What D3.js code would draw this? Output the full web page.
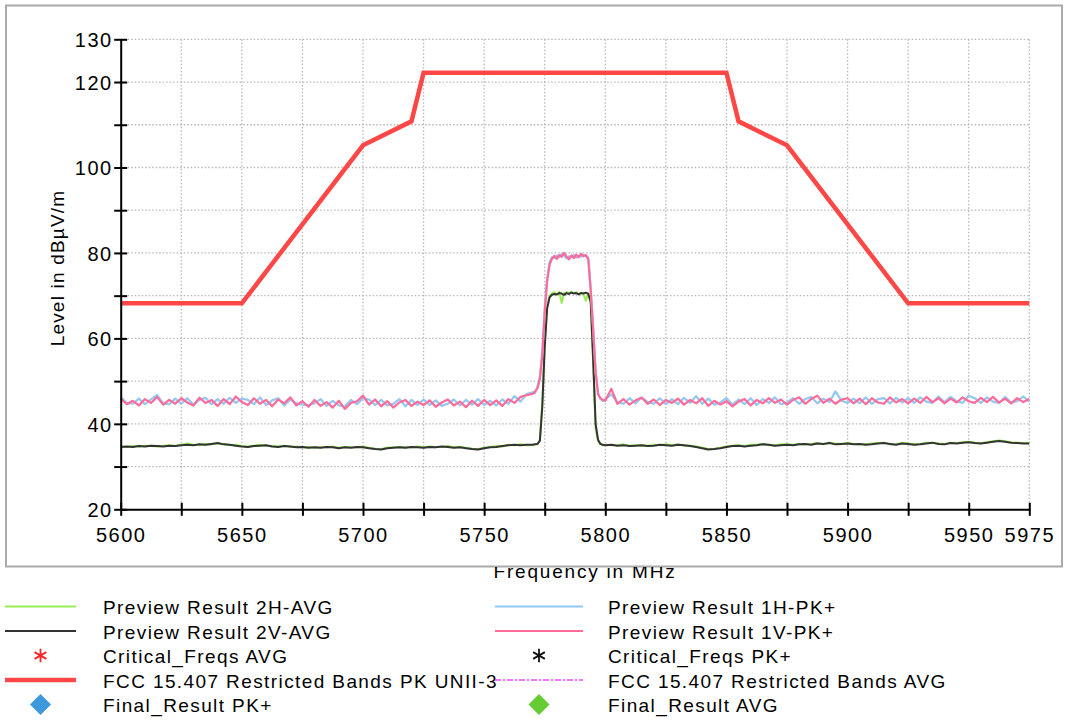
<!DOCTYPE html>
<html>
<head>
<meta charset="utf-8">
<script src="https://cdn.jsdelivr.net/npm/d3@7"></script>
<style>
  html, body { margin: 0; padding: 0; background: #fff; }
  svg { display: block; font-family: "Liberation Sans", Arial, sans-serif; }
</style>
</head>
<body>
<div id="chart"></div>
<script>
const WIDTH = 1065;
const HEIGHT = 720;

// frequency grid of the traces (MHz): coarse, fine around the carrier, coarse
const freqLow = d3.range(5600, 5768, 2.5);
const freqMid = d3.range(5770, 5800, 1);
const freqHigh = d3.range(5800, 5975.1, 2.5);
const freqs = freqLow.concat(freqMid, freqHigh);

// Preview Result 1V-PK+ (dBuV/m)
const pk1V = [
  45.9, 44.6, 45.4, 44.3, 45.8, 44.9, 46.3, 44.5, 45.6, 44.7, 46.0,
  45.0, 44.3, 46.1, 44.9, 45.6, 44.2, 45.8, 44.6, 46.4, 45.1,
  44.4, 46.0, 44.7, 45.6, 44.1, 45.7, 44.8, 46.2, 44.3, 45.3,
  44.0, 45.6, 44.2, 45.1, 43.8, 45.4, 43.5, 44.9, 45.3, 46.6,
  44.5, 45.7, 44.1, 45.3, 43.8, 45.0, 45.6, 44.2, 45.2, 44.4,
  45.5, 44.0, 45.0, 45.7, 44.3, 45.2, 43.9, 45.4, 44.2, 45.6,
  44.4, 45.5, 44.2, 45.8, 44.9, 46.3, 46.7,
  47.0, 47.6, 48.3, 50.5, 56.0, 66.0, 73.5, 77.2, 78.7, 79.3,
  78.6, 79.5, 79.1, 80.0, 79.2, 78.5, 79.4, 78.8, 79.6, 79.0,
  79.8, 79.2, 79.5, 78.4, 71.0, 62.0, 52.0, 47.0, 46.0, 45.6,
  45.4, 48.2, 44.7, 45.8, 44.5, 45.5, 46.1, 44.7, 45.7, 44.4, 45.6,
  44.9, 45.9, 44.5, 45.6, 44.8, 46.0, 44.2, 45.4, 44.5, 45.3,
  44.1, 45.2, 45.8, 44.3, 45.6, 44.8, 46.0, 44.9, 45.7, 44.5,
  45.6, 46.2, 44.7, 45.8, 46.6, 44.9, 45.9, 44.7, 45.7, 46.0,
  44.8, 45.9, 44.6, 46.0, 45.0, 44.7, 46.2, 45.0, 45.8, 44.8,
  45.9, 44.9, 46.3, 45.1, 46.0, 44.8, 45.9, 45.0, 46.2, 45.3,
  44.9, 46.1, 45.1, 46.3, 45.0, 45.9, 44.8, 46.0, 45.1, 45.8
];

// Preview Result 1H-PK+
const pk1H = [
  46.2, 44.9, 44.7, 45.9, 44.6, 45.7, 46.8, 44.8, 44.6, 45.9, 44.7,
  46.0, 44.5, 45.6, 46.1, 44.6, 45.8, 44.7, 46.1, 44.9, 45.9,
  45.6, 44.6, 46.2, 44.4, 45.5, 46.0, 44.3, 45.7, 44.8, 44.5,
  44.4, 44.8, 45.8, 44.2, 45.4, 44.3, 44.1, 45.6, 44.6, 46.0,
  45.7, 44.4, 45.6, 44.3, 44.7, 45.8, 44.1, 45.6, 44.4, 45.7,
  44.4, 45.5, 44.2, 44.7, 45.7, 44.3, 45.6, 44.5, 45.8, 44.4,
  45.4, 44.3, 45.7, 44.7, 46.5, 45.2, 47.0,
  47.4, 47.2, 48.8, 51.0, 57.0, 67.0, 74.0, 77.8, 79.0, 78.8,
  79.4, 79.0, 79.8, 79.4, 78.7, 79.2, 79.0, 79.5, 78.9, 79.4,
  79.1, 79.6, 79.3, 78.9, 71.5, 62.5, 52.5, 47.2, 45.8, 45.4,
  45.8, 46.9, 45.0, 44.7, 46.0, 44.8, 46.2, 45.1, 44.7, 46.0, 44.6,
  45.8, 44.6, 46.1, 44.9, 46.5, 44.7, 45.9, 44.5, 45.0, 46.0,
  44.5, 45.7, 44.6, 46.0, 44.4, 45.8, 44.9, 46.2, 44.6, 45.0,
  46.0, 44.7, 45.8, 46.3, 44.8, 45.9, 45.1, 47.6, 45.4, 44.9,
  45.9, 44.8, 46.2, 44.7, 45.8, 46.0, 44.8, 46.1, 45.0, 46.0,
  44.9, 46.2, 45.2, 44.9, 46.4, 45.1, 46.3, 45.3, 44.9, 46.6,
  46.0, 44.9, 46.2, 45.2, 44.9, 46.3, 45.0, 45.3, 46.4, 45.2
];

// Preview Result 2V-AVG
const avg2V = [
  34.6, 34.7, 34.6, 34.8, 34.7, 34.9, 34.8, 34.7, 34.9, 34.8, 35.0,
  35.1, 35.0, 35.2, 35.1, 35.3, 35.5, 35.2, 35.1, 34.9, 34.7,
  34.6, 34.8, 34.9, 35.0, 34.7, 34.6, 34.8, 34.7, 34.5, 34.6,
  34.4, 34.5, 34.4, 34.6, 34.5, 34.3, 34.5, 34.4, 34.6, 34.5,
  34.3, 34.1, 34.0, 34.3, 34.4, 34.5, 34.4, 34.6, 34.5, 34.4,
  34.6, 34.5, 34.7, 34.6, 34.4, 34.5, 34.3, 34.1, 34.0, 34.3,
  34.5, 34.6, 34.8, 35.0, 35.1, 35.0, 35.1,
  35.1, 35.2, 35.3, 36.0, 44.0, 58.0, 67.0, 69.6, 70.2, 70.4,
  70.3, 70.6, 70.5, 70.2, 70.6, 70.4, 70.7, 70.5, 70.6, 70.3,
  70.6, 70.5, 70.7, 70.4, 68.5, 55.0, 40.0, 36.3, 35.3, 35.1,
  35.0, 35.1, 34.9, 35.0, 34.8, 34.9, 35.0, 34.8, 34.9, 35.1, 35.0,
  34.9, 35.1, 35.0, 34.8, 34.6, 34.3, 34.0, 34.1, 34.3, 34.6,
  34.8, 34.9, 34.7, 34.9, 35.0, 35.2, 35.1, 34.9, 35.0, 35.1,
  35.0, 35.2, 35.3, 35.1, 35.4, 35.3, 35.5, 35.2, 35.3, 35.4,
  35.2, 35.3, 35.1, 35.2, 35.4, 35.5, 35.3, 35.1, 35.4, 35.3,
  35.1, 35.2, 35.4, 35.6, 35.3, 35.2, 35.5, 35.4, 35.6, 35.7,
  35.5, 35.4, 35.6, 35.8, 36.0, 35.8, 35.6, 35.5, 35.4, 35.4
];

// Preview Result 2H-AVG
const avg2H = [
  34.7, 34.6, 34.8, 34.7, 34.9, 34.8, 34.7, 34.9, 35.0, 34.8, 35.1,
  35.4, 35.1, 35.0, 35.3, 35.2, 35.4, 35.3, 35.0, 35.1, 34.8,
  34.7, 34.9, 35.1, 34.9, 34.8, 34.7, 34.9, 34.6, 34.7, 34.5,
  34.6, 34.4, 34.5, 34.5, 34.7, 34.4, 34.6, 34.5, 34.5, 34.7,
  34.4, 34.2, 34.1, 34.4, 34.5, 34.6, 34.5, 34.5, 34.7, 34.5,
  34.7, 34.6, 34.6, 34.8, 34.5, 34.6, 34.4, 34.2, 34.1, 34.4,
  34.6, 34.8, 34.7, 35.1, 35.0, 35.2, 35.0,
  35.0, 35.3, 35.2, 36.3, 45.0, 59.0, 67.5, 70.0, 70.6, 70.8,
  70.2, 70.9, 68.3, 70.6, 70.8, 70.5, 70.9, 70.6, 70.8, 70.4,
  70.7, 70.3, 68.8, 70.6, 68.0, 54.0, 39.0, 36.0, 35.2, 35.0,
  35.1, 35.0, 35.0, 35.2, 34.9, 35.0, 34.9, 34.9, 35.1, 35.0, 35.2,
  35.0, 35.2, 34.9, 34.9, 34.7, 34.4, 34.1, 34.2, 34.4, 34.7,
  34.9, 35.0, 34.8, 35.1, 35.1, 35.3, 35.0, 35.0, 35.2, 35.2,
  35.1, 35.3, 35.2, 35.3, 35.5, 35.2, 35.6, 35.4, 35.3, 35.5,
  35.3, 35.2, 35.2, 35.4, 35.5, 35.6, 35.2, 35.3, 35.5, 35.4,
  35.2, 35.3, 35.6, 35.5, 35.4, 35.3, 35.6, 35.5, 35.7, 35.8,
  35.6, 35.5, 35.7, 35.9, 36.1, 35.9, 35.7, 35.6, 35.5, 35.6
];

// FCC 15.407 restricted bands PK limit
const limitFreqs = [5600, 5650, 5700, 5720, 5725, 5850, 5855, 5875, 5925, 5975];
const limitLevels = [68.2, 68.2, 105.2, 110.8, 122.2, 122.2, 110.8, 105.2, 68.2, 68.2];

const xTicks = d3.range(5600, 5976, 25);
const xLabels = [5600, 5650, 5700, 5750, 5800, 5850, 5900, 5950, 5975];
const yTicks = d3.range(20, 131, 10);
const yLabels = [20, 40, 60, 80, 100, 120, 130];

const legendLeft = [
  {name: "Preview Result 2H-AVG", kind: "line", color: "#99ee55", w: 2},
  {name: "Preview Result 2V-AVG", kind: "line", color: "#333333", w: 2},
  {name: "Critical_Freqs AVG", kind: "star", color: "#ff2222"},
  {name: "FCC 15.407 Restricted Bands PK UNII-3", kind: "line", color: "#ff4747", w: 4.5},
  {name: "Final_Result PK+", kind: "diamond", color: "#3d98dc"}
];
const legendRight = [
  {name: "Preview Result 1H-PK+", kind: "line", color: "#92c8f2", w: 2},
  {name: "Preview Result 1V-PK+", kind: "line", color: "#ff6b9b", w: 2},
  {name: "Critical_Freqs PK+", kind: "star", color: "#111111"},
  {name: "FCC 15.407 Restricted Bands AVG", kind: "dashdot", color: "#ff44ff", w: 1.5},
  {name: "Final_Result AVG", kind: "diamond", color: "#66cc33"}
];

const x = d3.scaleLinear().domain([5600, 5975]).range([120.7, 1029.3]);
const y = d3.scaleLinear().domain([20, 130]).range([509.3, 39.3]);

const svg = d3.select("#chart")
  .append("svg")
  .attr("width", WIDTH)
  .attr("height", HEIGHT);

svg.append("rect").attr("width", WIDTH).attr("height", HEIGHT).attr("fill", "#fff");

// outer panel frame
svg.append("rect")
  .attr("x", 6).attr("y", 5.5)
  .attr("width", 1056).attr("height", 561)
  .attr("fill", "none")
  .attr("stroke", "#aaaaaa")
  .attr("stroke-width", 2);

// grid
const grid = svg.append("g");
grid.selectAll(".vg")
  .data(xTicks.slice(1))
  .enter().append("line")
  .attr("x1", d => x(d)).attr("x2", d => x(d))
  .attr("y1", y(130)).attr("y2", y(20))
  .attr("stroke", "#b8b8b8")
  .attr("stroke-width", 1.3)
  .attr("stroke-dasharray", "1.5,2");
grid.selectAll(".hg")
  .data(yTicks.slice(1))
  .enter().append("line")
  .attr("x1", x(5600)).attr("x2", x(5975))
  .attr("y1", d => y(d)).attr("y2", d => y(d))
  .attr("stroke", "#b8b8b8")
  .attr("stroke-width", 1.3)
  .attr("stroke-dasharray", "1.5,2");

// traces
const line = d3.line()
  .x((d, i) => x(freqs[i]))
  .y(d => y(d));

const traces = [
  {values: avg2H, color: "#99ee55", w: 2},
  {values: avg2V, color: "#333333", w: 2},
  {values: pk1H, color: "#92c8f2", w: 2.2},
  {values: pk1V, color: "#ff6b9b", w: 2.2}
];

svg.append("g")
  .selectAll("path")
  .data(traces)
  .enter().append("path")
  .attr("d", d => line(d.values))
  .attr("fill", "none")
  .attr("stroke", d => d.color)
  .attr("stroke-width", d => d.w)
  .attr("stroke-linejoin", "round");

const limitLine = d3.line()
  .x((d, i) => x(limitFreqs[i]))
  .y(d => y(d));

svg.append("path")
  .attr("d", limitLine(limitLevels))
  .attr("fill", "none")
  .attr("stroke", "#ff4747")
  .attr("stroke-width", 4.5);

// axes
const xAxis = svg.append("g")
  .attr("transform", `translate(0,${y(20)})`)
  .call(d3.axisBottom(x)
    .tickValues(xTicks)
    .tickSizeOuter(0)
    .tickFormat(d => xLabels.includes(d) ? d : ""));

const yAxis = svg.append("g")
  .attr("transform", `translate(${x(5600)},0)`)
  .call(d3.axisLeft(y)
    .tickValues(yTicks)
    .tickSizeOuter(0)
    .tickFormat(d => yLabels.includes(d) ? d : ""));

[xAxis, yAxis].forEach(a => {
  a.select(".domain").attr("stroke", "#000").attr("stroke-width", 2);
  a.selectAll(".tick line").attr("stroke", "#000").attr("stroke-width", 2);
  a.selectAll("text")
    .attr("fill", "#000")
    .style("font-size", "20px")
    .style("letter-spacing", "1.5px")
    .style("font-family", "'Liberation Sans', Arial, sans-serif");
});
xAxis.selectAll(".tick line").attr("y1", -6.5).attr("y2", 6.5);
xAxis.selectAll(".tick text").attr("y", 33).attr("dy", null);
yAxis.selectAll(".tick line").attr("x1", -6.5).attr("x2", 6.5);
yAxis.selectAll(".tick text").attr("x", -8).attr("dy", "0.36em");

// axis titles
svg.append("text")
  .attr("transform", `translate(64,${268}) rotate(-90)`)
  .attr("text-anchor", "middle")
  .style("font-size", "19px")
  .style("letter-spacing", "1.2px")
  .text("Level in dBµV/m");

svg.append("clipPath").attr("id", "xclip")
  .append("rect").attr("x", 0).attr("y", 567).attr("width", WIDTH).attr("height", 40);

svg.append("text")
  .attr("clip-path", "url(#xclip)")
  .attr("x", 585).attr("y", 578)
  .attr("text-anchor", "middle")
  .style("font-size", "19px")
  .style("letter-spacing", "1.8px")
  .text("Frequency in MHz");

// legend
function drawLegend(items, x0, x1, tx) {
  const g = svg.append("g");
  items.forEach((it, i) => {
    const cy = 606.5 + i * 24.5;
    const cx = (x0 + x1) / 2;
    if (it.kind === "line") {
      g.append("line").attr("x1", x0).attr("x2", x1).attr("y1", cy).attr("y2", cy)
        .attr("stroke", it.color).attr("stroke-width", it.w);
    } else if (it.kind === "dashdot") {
      g.append("line").attr("x1", x0).attr("x2", x1).attr("y1", cy).attr("y2", cy)
        .attr("stroke", it.color).attr("stroke-width", it.w)
        .attr("stroke-dasharray", "6,2,2,2");
    } else if (it.kind === "star") {
      g.append("path")
        .attr("transform", `translate(${cx},${cy})`)
        .attr("d", d3.symbol(d3.symbolAsterisk, 130)())
        .attr("stroke", it.color).attr("stroke-width", 1.8).attr("fill", "none");
    } else if (it.kind === "diamond") {
      g.append("path")
        .attr("transform", `translate(${cx},${cy}) rotate(45)`)
        .attr("d", d3.symbol(d3.symbolSquare, 220)())
        .attr("fill", it.color);
    }
    g.append("text")
      .attr("x", tx).attr("y", cy + 7.5)
      .style("font-size", "19px")
      .style("letter-spacing", "1.4px")
      .text(it.name);
  });
}
drawLegend(legendLeft, 5, 76, 103);
drawLegend(legendRight, 495, 583, 608);
</script>
</body>
</html>
